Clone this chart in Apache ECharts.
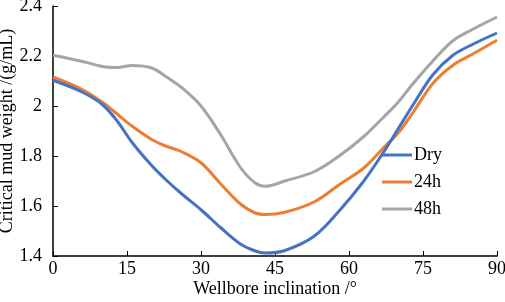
<!DOCTYPE html>
<html>
<head>
<meta charset="utf-8">
<script src="https://cdn.jsdelivr.net/npm/echarts@6/dist/echarts.min.js"></script>
<style>
  html, body { margin: 0; padding: 0; background: #fff; }
  #chart { width: 505px; height: 302px; }
</style>
</head>
<body>
<div id="chart"></div>
<script>
// inclination (deg) and critical mud weight (g/mL)
const inclination = [0, 6, 10, 13, 16, 20, 23, 26, 30, 34, 38, 41, 43, 47, 53, 58, 63, 67, 70, 73, 77, 81, 85, 90];
const dry = [2.103, 2.055, 2.006, 1.94, 1.855, 1.762, 1.703, 1.65, 1.585, 1.513, 1.448, 1.42, 1.412, 1.422, 1.48, 1.58, 1.70, 1.815, 1.91, 2.005, 2.125, 2.202, 2.246, 2.292];
const h24 = [2.116, 2.065, 2.015, 1.968, 1.92, 1.866, 1.839, 1.818, 1.773, 1.688, 1.608, 1.572, 1.566, 1.575, 1.617, 1.685, 1.752, 1.833, 1.893, 1.975, 2.09, 2.162, 2.207, 2.263];
const h48 = [2.203, 2.178, 2.158, 2.154, 2.162, 2.152, 2.116, 2.075, 2.0, 1.885, 1.754, 1.692, 1.679, 1.70, 1.738, 1.80, 1.878, 1.955, 2.016, 2.09, 2.18, 2.26, 2.306, 2.356];
const seriesNames = ["Dry", "24h", "48h"];
const colors = ["#4472C4", "#ED7D31", "#A5A5A5"];

const chart = echarts.init(document.getElementById("chart"));
const font = "Liberation Serif";

function pairs(ys) {
  return inclination.map(function (x, i) { return [x, ys[i]]; });
}

const option = {
  animation: false,
  textStyle: { fontFamily: font },
  grid: { left: 53, right: 8, top: 6, bottom: 46, outerBoundsMode: "none" },
  legend: {
    orient: "vertical",
    left: 382,
    top: 146,
    padding: 0,
    itemGap: 9,
    itemWidth: 30,
    itemHeight: 3,
    icon: "rect",
    data: seriesNames,
    textStyle: { fontFamily: font, fontSize: 18, color: "#000", padding: [0, 0, 0, -3] }
  },
  xAxis: {
    type: "value",
    min: 0,
    max: 90,
    interval: 15,
    name: "Wellbore inclination /°",
    nameLocation: "middle",
    nameGap: 24,
    nameMoveOverlap: false,
    nameTextStyle: { fontFamily: font, fontSize: 18, color: "#000" },
    axisLine: { lineStyle: { color: "#000", width: 1.5 } },
    axisTick: { inside: true, length: 5, lineStyle: { color: "#000" } },
    axisLabel: { fontFamily: font, fontSize: 18, color: "#000", margin: 4 },
    splitLine: { show: false }
  },
  yAxis: {
    type: "value",
    min: 1.4,
    max: 2.4,
    interval: 0.2,
    name: "Critical mud weight /(g/mL)",
    nameLocation: "middle",
    nameGap: 37,
    nameMoveOverlap: false,
    nameTextStyle: { fontFamily: font, fontSize: 18, color: "#000" },
    axisLine: { show: true, lineStyle: { color: "#000", width: 1.5 } },
    axisTick: { show: true, inside: true, length: 5, lineStyle: { color: "#000" } },
    axisLabel: {
      fontFamily: font, fontSize: 18, color: "#000", margin: 11,
      formatter: function (v) { return String(+v.toFixed(1)); }
    },
    splitLine: { show: false }
  },
  series: [dry, h24, h48].map(function (ys, i) {
    return {
      name: seriesNames[i],
      type: "line",
      smooth: 0.35,
      symbol: "none",
      data: pairs(ys),
      itemStyle: { color: colors[i] },
      lineStyle: { color: colors[i], width: 3 },
      z: 3 - i
    };
  })
};

chart.setOption(option);
window.addEventListener("resize", function () { chart.resize(); });
</script>
</body>
</html>
